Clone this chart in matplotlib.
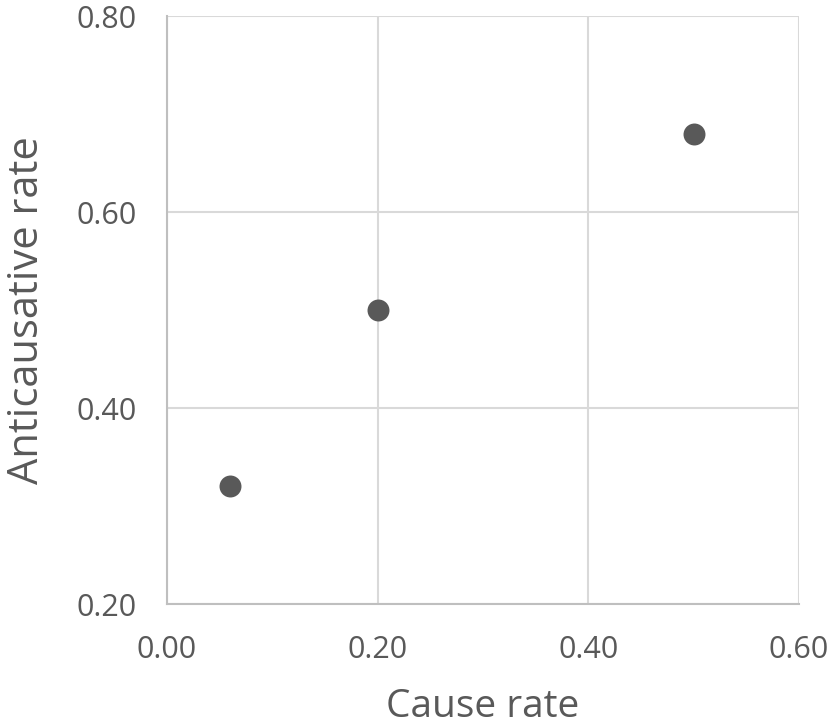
import matplotlib
matplotlib.use("Agg")
import matplotlib.pyplot as plt

# Data
cause_rate = [0.06, 0.20, 0.50]
anticausative_rate = [0.32, 0.50, 0.68]
x_ticks = [0.00, 0.20, 0.40, 0.60]
y_ticks = [0.20, 0.40, 0.60, 0.80]

plt.rcParams['font.family'] = ['Open Sans', 'DejaVu Sans']

fig = plt.figure(figsize=(8.32, 7.28), dpi=100)
ax = fig.add_axes([0.2007, 0.1703, 0.7596, 0.8077])

ax.scatter(cause_rate, anticausative_rate, s=250, color='#595959', zorder=3,
           linewidths=0)

ax.set_xlim(0, 0.6)
ax.set_ylim(0.2, 0.8)
ax.set_xticks(x_ticks)
ax.set_yticks(y_ticks)
ax.set_xticklabels([f'{v:.2f}' for v in x_ticks])
ax.set_yticklabels([f'{v:.2f}' for v in y_ticks])

ax.grid(True, color='#d9d9d9', linewidth=1.5)
ax.set_axisbelow(True)
for side in ['top', 'right']:
    ax.spines[side].set_visible(False)
for side in ['left', 'bottom']:
    ax.spines[side].set_color('#bfbfbf')
    ax.spines[side].set_linewidth(1.5)

ax.tick_params(length=0, labelsize=22, labelcolor='#595959')
ax.tick_params(axis='x', pad=22)
ax.tick_params(axis='y', pad=22)

ax.set_xlabel('Cause rate', fontsize=28, color='#595959', labelpad=17)
ax.set_ylabel('Anticausative rate', fontsize=30, color='#595959', labelpad=20)

fig.savefig('out.png', dpi=100)
